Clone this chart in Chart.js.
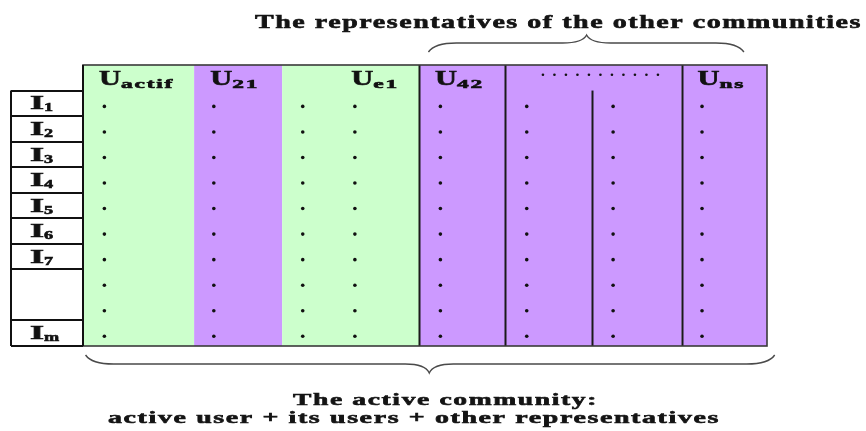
<!DOCTYPE html>
<html>
<head>
<meta charset="utf-8">
<script src="https://cdn.jsdelivr.net/npm/chart.js@4.4.0/dist/chart.umd.min.js"></script>
<style>
  html, body { margin: 0; padding: 0; background: #fff; }
  #wrap { width: 866px; height: 431px; }
</style>
</head>
<body>
<div id="wrap"><canvas id="chart" width="866" height="431"></canvas></div>
<script>
// column headers: big letter + subscript
const colMain = ['U', 'U', 'U', 'U', '', 'U'];
const colSub = ['actif', '21', 'e1', '42', '', 'ns'];
const colAlign = ['left', 'left', 'right', 'left', 'dots', 'left'];
const colFill = ['green', 'purple', 'green', 'purple', 'purple', 'purple'];
// column edges on the x axis (1 unit ~ one narrow column)
const colEdges = [0, 1.3, 2.33, 3.93, 4.94, 7.0, 8.0];
const solidDividers = [3.93, 4.94, 7.0];
const innerDividers = [5.95];   // only below the header row

// item rows
const rowMain = ['I', 'I', 'I', 'I', 'I', 'I', 'I', '', '', 'I'];
const rowSub = ['1', '2', '3', '4', '5', '6', '7', '', '', 'm'];

// the dot columns
const dotX = [0.25, 1.53, 2.57, 3.18, 4.18, 5.19, 6.2, 7.24];

// braces (x units)
const topBrace = [4.04, 5.89, 7.73];
const bottomBrace = [0.03, 4.05, 8.09];

const titleTop = 'The representatives of the other communities';
const titleBottom1 = 'The active community:';
const titleBottom2 = 'active user + its users + other representatives';

const palette = { green: '#ccffcc', purple: '#cc99ff' };
const FONT = '"Liberation Serif", "Times New Roman", serif';

const points = [];
dotX.forEach(x => rowMain.forEach((r, i) => points.push({ x: x, y: i + 0.62 })));

function stretchText(ctx, text, x, y, size, sx, align, spacing) {
  ctx.save();
  ctx.font = 'bold ' + size + 'px ' + FONT;
  if ('letterSpacing' in ctx) ctx.letterSpacing = (spacing || 0) + 'px';
  const w = ctx.measureText(text).width * sx;
  let left = x;
  if (align === 'center') left = x - w / 2;
  else if (align === 'right') left = x - w;
  ctx.translate(left, y);
  ctx.scale(sx, 1);
  ctx.textAlign = 'left';
  ctx.textBaseline = 'alphabetic';
  ctx.fillText(text, 0, 0);
  ctx.strokeStyle = ctx.fillStyle;
  ctx.lineWidth = 0.6;
  ctx.strokeText(text, 0, 0);
  ctx.restore();
  return w;
}

function fitText(ctx, text, left, y, size, width, spacing) {
  ctx.save();
  ctx.font = 'bold ' + size + 'px ' + FONT;
  if ('letterSpacing' in ctx) ctx.letterSpacing = spacing + 'px';
  const w = ctx.measureText(text).width;
  ctx.restore();
  stretchText(ctx, text, left, y, size, width / w, 'left', spacing);
}

function subLabel(ctx, main, sub, x, y, mainSize, subSize, align) {
  ctx.save();
  ctx.font = 'bold ' + mainSize + 'px ' + FONT;
  const mw = ctx.measureText(main).width * 1.45;
  ctx.font = 'bold ' + subSize + 'px ' + FONT;
  if ('letterSpacing' in ctx) ctx.letterSpacing = '1px';
  const sw = ctx.measureText(sub).width * 1.8;
  ctx.restore();
  let left = x;
  if (align === 'right') left = x - mw - sw;
  stretchText(ctx, main, left, y, mainSize, 1.45, 'left', 0);
  stretchText(ctx, sub, left + mw, y + 3, subSize, 1.8, 'left', 1);
}

function brace(ctx, xs, x0, xm, x1, yEnd, yMid, yTip) {
  const a = xs.getPixelForValue(x0), m = xs.getPixelForValue(xm), b = xs.getPixelForValue(x1);
  ctx.beginPath();
  ctx.moveTo(a, yEnd);
  ctx.quadraticCurveTo(a + 6, yMid, a + 28, yMid);
  ctx.lineTo(m - 24, yMid);
  ctx.quadraticCurveTo(m - 4, yMid, m, yTip);
  ctx.quadraticCurveTo(m + 4, yMid, m + 24, yMid);
  ctx.lineTo(b - 28, yMid);
  ctx.quadraticCurveTo(b - 6, yMid, b, yEnd);
  ctx.stroke();
}

const tablePlugin = {
  id: 'tablePlugin',
  beforeDatasetsDraw(chart) {
    const { ctx, scales: { x, y } } = chart;
    ctx.save();
    colFill.forEach((c, i) => {
      const l = x.getPixelForValue(colEdges[i]);
      const r = x.getPixelForValue(colEdges[i + 1]);
      ctx.fillStyle = palette[c];
      ctx.fillRect(l, y.getPixelForValue(-1), r - l, y.getPixelForValue(rowMain.length) - y.getPixelForValue(-1));
    });
    ctx.restore();
  },
  afterDatasetsDraw(chart) {
    const { ctx, scales: { x, y } } = chart;
    const top = y.getPixelForValue(-1);
    const head = y.getPixelForValue(0);
    const bottom = y.getPixelForValue(rowMain.length);
    const left = x.getPixelForValue(0);
    const right = x.getPixelForValue(colEdges[colEdges.length - 1]);
    ctx.save();

    // dividers
    ctx.strokeStyle = '#1a1a1a';
    ctx.lineWidth = 2;
    solidDividers.forEach(v => {
      const px = Math.round(x.getPixelForValue(v)) + 0.5;
      ctx.beginPath(); ctx.moveTo(px, top); ctx.lineTo(px, bottom); ctx.stroke();
    });
    innerDividers.forEach(v => {
      const px = Math.round(x.getPixelForValue(v)) + 0.5;
      ctx.beginPath(); ctx.moveTo(px, head); ctx.lineTo(px, bottom); ctx.stroke();
    });

    // outer border
    ctx.strokeStyle = '#3a3a3a';
    ctx.lineWidth = 1.6;
    ctx.strokeRect(left, top, right - left, bottom - top);
    ctx.strokeStyle = '#111';
    ctx.lineWidth = 2;
    ctx.beginPath(); ctx.moveTo(left, top); ctx.lineTo(left, bottom); ctx.stroke();

    // item label box
    const boxL = left - 72;
    ctx.strokeStyle = '#111';
    ctx.lineWidth = 2;
    ctx.beginPath(); ctx.moveTo(boxL, head); ctx.lineTo(boxL, bottom); ctx.stroke();
    for (let i = 0; i <= rowMain.length; i++) {
      if (i > 0 && i < rowMain.length && rowMain[i] === '' && rowMain[i - 1] === '') continue;
      const py = Math.round(y.getPixelForValue(i));
      ctx.beginPath(); ctx.moveTo(boxL, py); ctx.lineTo(left, py); ctx.stroke();
    }
    ctx.fillStyle = '#111';
    rowMain.forEach((m, i) => {
      if (!m) return;
      const py = y.getPixelForValue(i + 0.74);
      const w = stretchText(ctx, m, boxL + 19, py, 19, 1.9, 'left', 0);
      stretchText(ctx, rowSub[i], boxL + 19 + w, py + 2, 13, 1.4, 'left', 0);
    });

    // column headers
    const hy = y.getPixelForValue(-0.22);
    colMain.forEach((m, i) => {
      const l = x.getPixelForValue(colEdges[i]);
      const r = x.getPixelForValue(colEdges[i + 1]);
      ctx.fillStyle = '#111';
      if (colAlign[i] === 'dots') {
        const cy = y.getPixelForValue(-0.62);
        const c = (l + r) / 2 + 7;
        for (let k = 0; k < 11; k++) {
          ctx.beginPath();
          ctx.arc(c - 57.5 + k * 11.5, cy, 1.3, 0, Math.PI * 2);
          ctx.fill();
        }
        return;
      }
      if (colAlign[i] === 'right') subLabel(ctx, m, colSub[i], r - 20, hy, 21, 13, 'right');
      else subLabel(ctx, m, colSub[i], l + 16, hy, 21, 13, 'left');
    });

    // braces
    ctx.strokeStyle = '#4a4a4a';
    ctx.lineWidth = 1.4;
    brace(ctx, x, topBrace[0], topBrace[1], topBrace[2], top - 13, top - 22, top - 30);
    brace(ctx, x, bottomBrace[0], bottomBrace[1], bottomBrace[2], bottom + 9, bottom + 18, bottom + 27);

    // titles
    ctx.fillStyle = '#141414';
    fitText(ctx, titleTop, 255, 28, 18, 607, 1);
    fitText(ctx, titleBottom1, 293, 405, 17, 305, 1);
    fitText(ctx, titleBottom2, 108, 423, 17, 612, 1);
    ctx.restore();
  }
};

new Chart(document.getElementById('chart').getContext('2d'), {
  type: 'scatter',
  data: {
    datasets: [{
      data: points,
      pointRadius: 1.8,
      pointHoverRadius: 1.8,
      pointBackgroundColor: '#111',
      pointBorderWidth: 0
    }]
  },
  options: {
    responsive: false,
    animation: false,
    events: [],
    layout: { padding: { left: 83, right: 99, top: 65, bottom: 85 } },
    plugins: { legend: { display: false }, tooltip: { enabled: false } },
    scales: {
      x: { type: 'linear', min: 0, max: 8, display: false },
      y: { type: 'linear', min: -1, max: rowMain.length, reverse: true, display: false }
    }
  },
  plugins: [tablePlugin]
});
</script>
</body>
</html>
